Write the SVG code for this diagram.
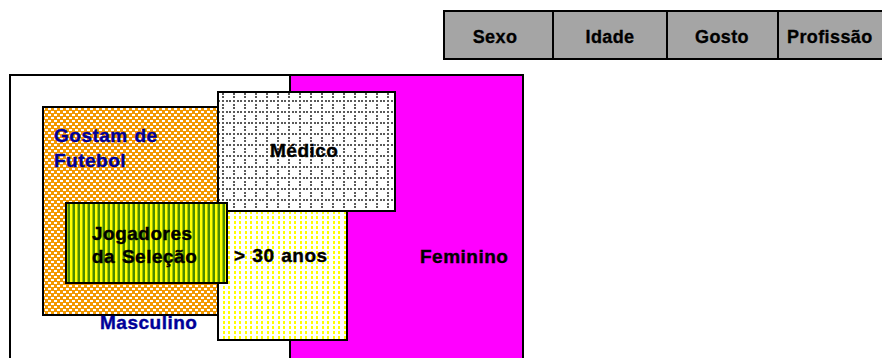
<svg xmlns="http://www.w3.org/2000/svg" width="882" height="358" viewBox="0 0 882 358">
<defs>
<pattern id="checker" width="6" height="6" patternUnits="userSpaceOnUse">
<rect width="6" height="6" fill="#f39800"/>
<rect x="0" y="0" width="3" height="2" fill="#fff"/>
<rect x="3" y="3" width="3" height="2" fill="#fff"/>
</pattern>
<pattern id="dotgrid" width="11" height="11" patternUnits="userSpaceOnUse">
<rect width="11" height="11" fill="#fff"/>
<rect x="2" y="1" width="2" height="2" fill="#5a5a5a"/>
<rect x="6" y="1" width="2" height="2" fill="#5a5a5a"/>
<rect x="9" y="1" width="2" height="2" fill="#5a5a5a"/>
<rect x="2" y="5" width="2" height="2" fill="#5a5a5a"/>
<rect x="2" y="8" width="2" height="2" fill="#5a5a5a"/>
</pattern>
<pattern id="yellowdots" width="11" height="5" patternUnits="userSpaceOnUse">
<rect width="11" height="5" fill="#fff"/>
<rect x="3" y="1" width="2" height="3" fill="#ffff00"/>
<rect x="8" y="1" width="2" height="3" fill="#ffff00"/>
</pattern>
<pattern id="stripes" width="5" height="5" patternUnits="userSpaceOnUse">
<rect width="5" height="5" fill="#4c8c00"/>
<rect x="0" y="0" width="2.5" height="5" fill="#ffff00"/>
</pattern>
</defs>
<style>
.box{stroke:#000;stroke-width:2}
.t{font-family:"Liberation Sans",Arial,sans-serif;font-weight:bold;font-size:19px;letter-spacing:0.5px;word-spacing:1px;stroke-width:0.4px}
.blue{fill:#000099;stroke:#000099}
.blk{fill:#000;stroke:#000}
.th{font-family:"Liberation Sans",Arial,sans-serif;font-weight:bold;font-size:18px;fill:#000;text-anchor:middle;letter-spacing:0.4px;stroke:#000;stroke-width:0.3px}
</style>
<rect width="882" height="358" fill="#fff"/>
<g id="table">
<rect class="box" x="444" y="11" width="450" height="48" fill="#a5a5a5"/>
<line class="box" x1="553" y1="11" x2="553" y2="59"/>
<line class="box" x1="667" y1="11" x2="667" y2="59"/>
<line class="box" x1="778" y1="11" x2="778" y2="59"/>
<text class="th" x="495" y="43">Sexo</text>
<text class="th" x="610" y="43">Idade</text>
<text class="th" x="722" y="43">Gosto</text>
<text class="th" x="787" y="43" style="text-anchor:start">Profissão</text>
</g>
<g id="masculino">
<rect class="box" x="10" y="75" width="280" height="300" fill="#fff"/>
</g>
<g id="feminino">
<rect class="box" x="290" y="75" width="233" height="300" fill="#ff00ff"/>
<text class="t blk" x="420" y="263">Feminino</text>
</g>
<g id="gostam">
<rect class="box" x="43" y="107" width="176" height="208" fill="url(#checker)"/>
</g>
<g id="mais30">
<rect class="box" x="218" y="211" width="129" height="129" fill="url(#yellowdots)"/>
<text class="t blk" x="234" y="262">&gt; 30 anos</text>
</g>
<g id="medico">
<rect class="box" x="218" y="92" width="177" height="119" fill="url(#dotgrid)"/>
<text class="t blk" x="270" y="157">Médico</text>
</g>
<g id="jogadores">
<rect class="box" x="66" y="203" width="161" height="80" fill="url(#stripes)"/>
<text class="t blk" x="92" y="240">Jogadores</text>
<text class="t blk" x="92" y="263">da Seleção</text>
</g>
<g id="labels">
<text class="t blue" x="54" y="142">Gostam de</text>
<text class="t blue" x="54" y="167">Futebol</text>
<text class="t blue" x="100" y="329">Masculino</text>
</g>
</svg>
